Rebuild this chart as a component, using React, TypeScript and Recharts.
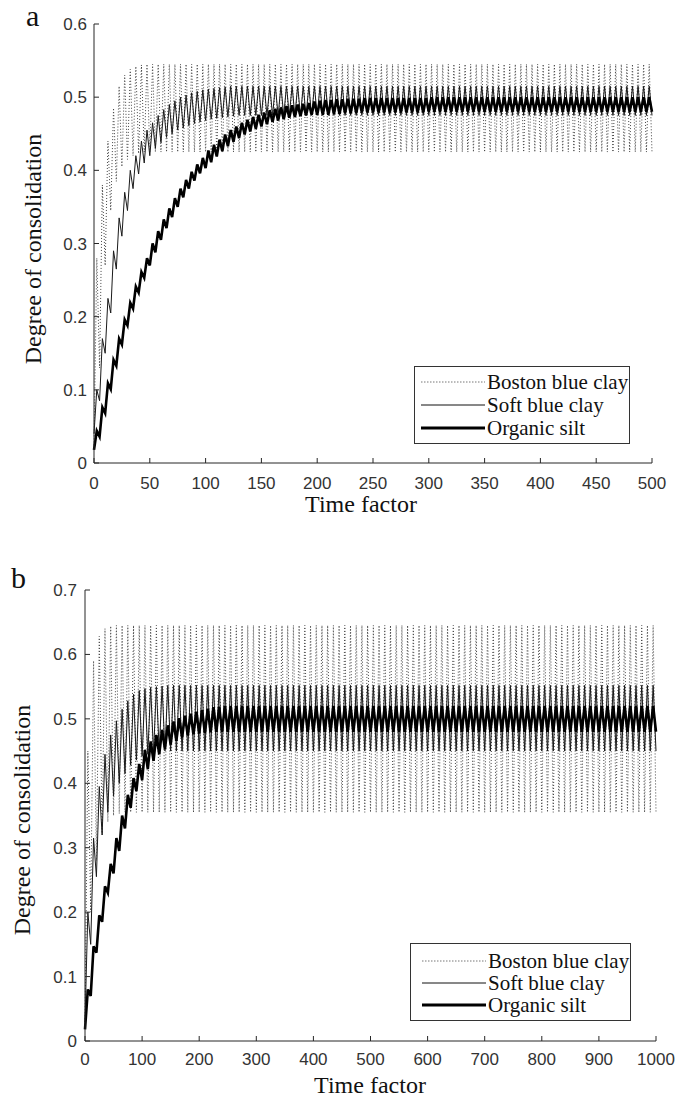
import { Line, LineChart, XAxis, YAxis } from 'recharts';

const seriesNames = ['Boston blue clay', 'Soft blue clay', 'Organic silt'];

const xTicksA = [0, 50, 100, 150, 200, 250, 300, 350, 400, 450, 500];
const yTicksA = [0, 0.1, 0.2, 0.3, 0.4, 0.5, 0.6];
const xTicksB = [0, 100, 200, 300, 400, 500, 600, 700, 800, 900, 1000];
const yTicksB = [0, 0.1, 0.2, 0.3, 0.4, 0.5, 0.6, 0.7];

// half of one loading cycle (time factor units)
const halfCycleA = 2.5;
const halfCycleB = 5;

// ---- panel a : values at cycle starts (t = 0, 5, 10 ...) and at mid-cycle (t = 2.5, 7.5 ...)
const bostonLowA = [
  0.02, 0.13, 0.27, 0.345, 0.385, 0.405, 0.415, 0.42, 0.423, 0.425,
  0.425, 0.425, 0.425, 0.425, 0.425, 0.425, 0.425, 0.425, 0.425, 0.425,
  0.425, 0.425, 0.425, 0.425, 0.425, 0.425, 0.425, 0.425, 0.425, 0.425,
  0.425, 0.425, 0.425, 0.425, 0.425, 0.425, 0.425, 0.425, 0.425, 0.425,
  0.425, 0.425, 0.425, 0.425, 0.425, 0.425, 0.425, 0.425, 0.425, 0.425,
  0.425, 0.425, 0.425, 0.425, 0.425, 0.425, 0.425, 0.425, 0.425, 0.425,
  0.425, 0.425, 0.425, 0.425, 0.425, 0.425, 0.425, 0.425, 0.425, 0.425,
  0.425, 0.425, 0.425, 0.425, 0.425, 0.425, 0.425, 0.425, 0.425, 0.425,
  0.425, 0.425, 0.425, 0.425, 0.425, 0.425, 0.425, 0.425, 0.425, 0.425,
  0.425, 0.425, 0.425, 0.425, 0.425, 0.425, 0.425, 0.425, 0.425, 0.425,
  0.425,
];
const bostonHighA = [
  0.28, 0.38, 0.44, 0.485, 0.515, 0.53, 0.538, 0.542, 0.544, 0.545,
  0.545, 0.545, 0.545, 0.545, 0.545, 0.545, 0.545, 0.545, 0.545, 0.545,
  0.545, 0.545, 0.545, 0.545, 0.545, 0.545, 0.545, 0.545, 0.545, 0.545,
  0.545, 0.545, 0.545, 0.545, 0.545, 0.545, 0.545, 0.545, 0.545, 0.545,
  0.545, 0.545, 0.545, 0.545, 0.545, 0.545, 0.545, 0.545, 0.545, 0.545,
  0.545, 0.545, 0.545, 0.545, 0.545, 0.545, 0.545, 0.545, 0.545, 0.545,
  0.545, 0.545, 0.545, 0.545, 0.545, 0.545, 0.545, 0.545, 0.545, 0.545,
  0.545, 0.545, 0.545, 0.545, 0.545, 0.545, 0.545, 0.545, 0.545, 0.545,
  0.545, 0.545, 0.545, 0.545, 0.545, 0.545, 0.545, 0.545, 0.545, 0.545,
  0.545, 0.545, 0.545, 0.545, 0.545, 0.545, 0.545, 0.545, 0.545, 0.545,
];
const softLowA = [
  0.04, 0.085, 0.15, 0.205, 0.265, 0.31, 0.345, 0.375, 0.395, 0.41,
  0.42, 0.43, 0.438, 0.445, 0.45, 0.455, 0.458, 0.461, 0.464, 0.466,
  0.468, 0.47, 0.471, 0.472, 0.473, 0.474, 0.475, 0.475, 0.475, 0.475,
  0.475, 0.475, 0.475, 0.475, 0.475, 0.475, 0.475, 0.475, 0.475, 0.475,
  0.475, 0.475, 0.475, 0.475, 0.475, 0.475, 0.475, 0.475, 0.475, 0.475,
  0.475, 0.475, 0.475, 0.475, 0.475, 0.475, 0.475, 0.475, 0.475, 0.475,
  0.475, 0.475, 0.475, 0.475, 0.475, 0.475, 0.475, 0.475, 0.475, 0.475,
  0.475, 0.475, 0.475, 0.475, 0.475, 0.475, 0.475, 0.475, 0.475, 0.475,
  0.475, 0.475, 0.475, 0.475, 0.475, 0.475, 0.475, 0.475, 0.475, 0.475,
  0.475, 0.475, 0.475, 0.475, 0.475, 0.475, 0.475, 0.475, 0.475, 0.475,
  0.475,
];
const softHighA = [
  0.1, 0.17, 0.225, 0.29, 0.335, 0.37, 0.4, 0.42, 0.44, 0.455,
  0.465, 0.475, 0.483, 0.49, 0.495, 0.5, 0.503, 0.506, 0.508, 0.51,
  0.511, 0.512, 0.513, 0.514, 0.515, 0.515, 0.515, 0.515, 0.515, 0.515,
  0.515, 0.515, 0.515, 0.515, 0.515, 0.515, 0.515, 0.515, 0.515, 0.515,
  0.515, 0.515, 0.515, 0.515, 0.515, 0.515, 0.515, 0.515, 0.515, 0.515,
  0.515, 0.515, 0.515, 0.515, 0.515, 0.515, 0.515, 0.515, 0.515, 0.515,
  0.515, 0.515, 0.515, 0.515, 0.515, 0.515, 0.515, 0.515, 0.515, 0.515,
  0.515, 0.515, 0.515, 0.515, 0.515, 0.515, 0.515, 0.515, 0.515, 0.515,
  0.515, 0.515, 0.515, 0.515, 0.515, 0.515, 0.515, 0.515, 0.515, 0.515,
  0.515, 0.515, 0.515, 0.515, 0.515, 0.515, 0.515, 0.515, 0.515, 0.515,
];
const siltLowA = [
  0.018, 0.036, 0.068, 0.101, 0.133, 0.162, 0.188, 0.211, 0.233, 0.253,
  0.27, 0.288, 0.305, 0.321, 0.336, 0.35, 0.363, 0.375, 0.386, 0.396,
  0.403, 0.411, 0.419, 0.426, 0.433, 0.439, 0.444, 0.449, 0.453, 0.457,
  0.46, 0.463, 0.466, 0.468, 0.47, 0.472, 0.473, 0.474, 0.475, 0.476,
  0.476, 0.476, 0.476, 0.477, 0.477, 0.478, 0.478, 0.478, 0.479, 0.479,
  0.479, 0.479, 0.479, 0.479, 0.479, 0.479, 0.479, 0.479, 0.479, 0.479,
  0.48, 0.48, 0.48, 0.48, 0.48, 0.48, 0.48, 0.48, 0.48, 0.48,
  0.48, 0.48, 0.48, 0.48, 0.48, 0.48, 0.48, 0.48, 0.48, 0.48,
  0.48, 0.48, 0.48, 0.48, 0.48, 0.48, 0.48, 0.48, 0.48, 0.48,
  0.48, 0.48, 0.48, 0.48, 0.48, 0.48, 0.48, 0.48, 0.48, 0.48,
  0.48,
];
const siltHighA = [
  0.044, 0.076, 0.109, 0.141, 0.17, 0.196, 0.219, 0.241, 0.261, 0.28,
  0.3, 0.317, 0.333, 0.348, 0.362, 0.375, 0.387, 0.398, 0.408, 0.417,
  0.427, 0.435, 0.442, 0.449, 0.455, 0.46, 0.465, 0.469, 0.473, 0.476,
  0.479, 0.482, 0.484, 0.486, 0.488, 0.489, 0.49, 0.491, 0.492, 0.494,
  0.495, 0.496, 0.496, 0.497, 0.497, 0.498, 0.498, 0.498, 0.499, 0.499,
  0.499, 0.499, 0.499, 0.499, 0.499, 0.499, 0.499, 0.499, 0.499, 0.499,
  0.5, 0.5, 0.5, 0.5, 0.5, 0.5, 0.5, 0.5, 0.5, 0.5,
  0.5, 0.5, 0.5, 0.5, 0.5, 0.5, 0.5, 0.5, 0.5, 0.5,
  0.5, 0.5, 0.5, 0.5, 0.5, 0.5, 0.5, 0.5, 0.5, 0.5,
  0.5, 0.5, 0.5, 0.5, 0.5, 0.5, 0.5, 0.5, 0.5, 0.5,
];

// ---- panel b : cycle starts (t = 0, 10, 20 ...) and mid-cycle (t = 5, 15 ...)
const bostonLowB = [
  0.02, 0.2, 0.28, 0.32, 0.34, 0.35, 0.353, 0.355, 0.355, 0.355,
  0.355, 0.355, 0.355, 0.355, 0.355, 0.355, 0.355, 0.355, 0.355, 0.355,
  0.355, 0.355, 0.355, 0.355, 0.355, 0.355, 0.355, 0.355, 0.355, 0.355,
  0.355, 0.355, 0.355, 0.355, 0.355, 0.355, 0.355, 0.355, 0.355, 0.355,
  0.355, 0.355, 0.355, 0.355, 0.355, 0.355, 0.355, 0.355, 0.355, 0.355,
  0.355, 0.355, 0.355, 0.355, 0.355, 0.355, 0.355, 0.355, 0.355, 0.355,
  0.355, 0.355, 0.355, 0.355, 0.355, 0.355, 0.355, 0.355, 0.355, 0.355,
  0.355, 0.355, 0.355, 0.355, 0.355, 0.355, 0.355, 0.355, 0.355, 0.355,
  0.355, 0.355, 0.355, 0.355, 0.355, 0.355, 0.355, 0.355, 0.355, 0.355,
  0.355, 0.355, 0.355, 0.355, 0.355, 0.355, 0.355, 0.355, 0.355, 0.355,
  0.355,
];
const bostonHighB = [
  0.45, 0.59, 0.628, 0.64, 0.644, 0.645, 0.645, 0.645, 0.645, 0.645,
  0.645, 0.645, 0.645, 0.645, 0.645, 0.645, 0.645, 0.645, 0.645, 0.645,
  0.645, 0.645, 0.645, 0.645, 0.645, 0.645, 0.645, 0.645, 0.645, 0.645,
  0.645, 0.645, 0.645, 0.645, 0.645, 0.645, 0.645, 0.645, 0.645, 0.645,
  0.645, 0.645, 0.645, 0.645, 0.645, 0.645, 0.645, 0.645, 0.645, 0.645,
  0.645, 0.645, 0.645, 0.645, 0.645, 0.645, 0.645, 0.645, 0.645, 0.645,
  0.645, 0.645, 0.645, 0.645, 0.645, 0.645, 0.645, 0.645, 0.645, 0.645,
  0.645, 0.645, 0.645, 0.645, 0.645, 0.645, 0.645, 0.645, 0.645, 0.645,
  0.645, 0.645, 0.645, 0.645, 0.645, 0.645, 0.645, 0.645, 0.645, 0.645,
  0.645, 0.645, 0.645, 0.645, 0.645, 0.645, 0.645, 0.645, 0.645, 0.645,
];
const softLowB = [
  0.03, 0.15, 0.255, 0.32, 0.355, 0.38, 0.4, 0.415, 0.428, 0.436,
  0.442, 0.445, 0.447, 0.449, 0.45, 0.45, 0.45, 0.45, 0.45, 0.45,
  0.45, 0.45, 0.45, 0.45, 0.45, 0.45, 0.45, 0.45, 0.45, 0.45,
  0.45, 0.45, 0.45, 0.45, 0.45, 0.45, 0.45, 0.45, 0.45, 0.45,
  0.45, 0.45, 0.45, 0.45, 0.45, 0.45, 0.45, 0.45, 0.45, 0.45,
  0.45, 0.45, 0.45, 0.45, 0.45, 0.45, 0.45, 0.45, 0.45, 0.45,
  0.45, 0.45, 0.45, 0.45, 0.45, 0.45, 0.45, 0.45, 0.45, 0.45,
  0.45, 0.45, 0.45, 0.45, 0.45, 0.45, 0.45, 0.45, 0.45, 0.45,
  0.45, 0.45, 0.45, 0.45, 0.45, 0.45, 0.45, 0.45, 0.45, 0.45,
  0.45, 0.45, 0.45, 0.45, 0.45, 0.45, 0.45, 0.45, 0.45, 0.45,
  0.45,
];
const softHighB = [
  0.2, 0.315, 0.395, 0.445, 0.475, 0.497, 0.515, 0.528, 0.538, 0.544,
  0.547, 0.549, 0.55, 0.551, 0.552, 0.552, 0.552, 0.552, 0.552, 0.552,
  0.552, 0.552, 0.552, 0.552, 0.552, 0.552, 0.552, 0.552, 0.552, 0.552,
  0.552, 0.552, 0.552, 0.552, 0.552, 0.552, 0.552, 0.552, 0.552, 0.552,
  0.552, 0.552, 0.552, 0.552, 0.552, 0.552, 0.552, 0.552, 0.552, 0.552,
  0.552, 0.552, 0.552, 0.552, 0.552, 0.552, 0.552, 0.552, 0.552, 0.552,
  0.552, 0.552, 0.552, 0.552, 0.552, 0.552, 0.552, 0.552, 0.552, 0.552,
  0.552, 0.552, 0.552, 0.552, 0.552, 0.552, 0.552, 0.552, 0.552, 0.552,
  0.552, 0.552, 0.552, 0.552, 0.552, 0.552, 0.552, 0.552, 0.552, 0.552,
  0.552, 0.552, 0.552, 0.552, 0.552, 0.552, 0.552, 0.552, 0.552, 0.552,
];
const siltLowB = [
  0.018, 0.07, 0.137, 0.185, 0.23, 0.26, 0.295, 0.33, 0.362, 0.388,
  0.405, 0.422, 0.435, 0.445, 0.453, 0.46, 0.466, 0.471, 0.474, 0.476,
  0.477, 0.478, 0.479, 0.48, 0.48, 0.48, 0.48, 0.48, 0.48, 0.48,
  0.48, 0.48, 0.48, 0.48, 0.48, 0.48, 0.48, 0.48, 0.48, 0.48,
  0.48, 0.48, 0.48, 0.48, 0.48, 0.48, 0.48, 0.48, 0.48, 0.48,
  0.48, 0.48, 0.48, 0.48, 0.48, 0.48, 0.48, 0.48, 0.48, 0.48,
  0.48, 0.48, 0.48, 0.48, 0.48, 0.48, 0.48, 0.48, 0.48, 0.48,
  0.48, 0.48, 0.48, 0.48, 0.48, 0.48, 0.48, 0.48, 0.48, 0.48,
  0.48, 0.48, 0.48, 0.48, 0.48, 0.48, 0.48, 0.48, 0.48, 0.48,
  0.48, 0.48, 0.48, 0.48, 0.48, 0.48, 0.48, 0.48, 0.48, 0.48,
  0.48,
];
const siltHighB = [
  0.08, 0.147, 0.195, 0.24, 0.275, 0.315, 0.35, 0.382, 0.408, 0.43,
  0.452, 0.465, 0.475, 0.483, 0.49, 0.496, 0.501, 0.505, 0.508, 0.511,
  0.514, 0.516, 0.518, 0.519, 0.52, 0.52, 0.52, 0.52, 0.52, 0.52,
  0.52, 0.52, 0.52, 0.52, 0.52, 0.52, 0.52, 0.52, 0.52, 0.52,
  0.52, 0.52, 0.52, 0.52, 0.52, 0.52, 0.52, 0.52, 0.52, 0.52,
  0.52, 0.52, 0.52, 0.52, 0.52, 0.52, 0.52, 0.52, 0.52, 0.52,
  0.52, 0.52, 0.52, 0.52, 0.52, 0.52, 0.52, 0.52, 0.52, 0.52,
  0.52, 0.52, 0.52, 0.52, 0.52, 0.52, 0.52, 0.52, 0.52, 0.52,
  0.52, 0.52, 0.52, 0.52, 0.52, 0.52, 0.52, 0.52, 0.52, 0.52,
  0.52, 0.52, 0.52, 0.52, 0.52, 0.52, 0.52, 0.52, 0.52, 0.52,
];

type Row = { t: number; boston: number; soft: number; silt: number };

// interleave cycle-start and mid-cycle readings into one time series
function buildRows(step: number, bLow: number[], bHigh: number[], sLow: number[], sHigh: number[], oLow: number[], oHigh: number[]) {
  const rows: Row[] = [];
  for (let k = 0; k < bLow.length; k++) {
    rows.push({ t: 2 * k * step, boston: bLow[k], soft: sLow[k], silt: oLow[k] });
    if (k < bHigh.length) rows.push({ t: (2 * k + 1) * step, boston: bHigh[k], soft: sHigh[k], silt: oHigh[k] });
  }
  return rows;
}

const rowsA = buildRows(halfCycleA, bostonLowA, bostonHighA, softLowA, softHighA, siltLowA, siltHighA);
const rowsB = buildRows(halfCycleB, bostonLowB, bostonHighB, softLowB, softHighB, siltLowB, siltHighB);

const axisColor = '#262626';
const serif = '"Liberation Serif", "Times New Roman", serif';
const sans = '"Liberation Sans", Arial, sans-serif';
const tickStyle = { fill: '#333', fontSize: 17, fontFamily: sans };

interface PanelProps {
  letter: string;
  top: number;
  height: number;
  rows: Row[];
  xTicks: number[];
  yTicks: number[];
  plot: { left: number; right: number; top: number; bottom: number };
  xTickMargin: number;
  yTickMargin: number;
  yTitle: { x: number; y: number };
  xTitle: { x: number; y: number };
  letterPos: { x: number; y: number };
  legend: { left: number; top: number; width: number; height: number; lineFrom: number; lineTo: number; textX: number; rows: number[] };
}

function LegendBox({ legend }: { legend: PanelProps['legend'] }) {
  const strokes = [
    { stroke: '#777', width: 1, dash: '1.5 1.5' },
    { stroke: '#111', width: 1, dash: undefined },
    { stroke: '#000', width: 3, dash: undefined },
  ];
  return (
    <div
      style={{
        position: 'absolute',
        left: legend.left,
        top: legend.top,
        width: legend.width,
        height: legend.height,
        border: '1px solid #333',
        boxSizing: 'border-box',
        background: '#fff',
      }}
    >
      <svg width={legend.width - 2} height={legend.height - 2} style={{ position: 'absolute', left: 0, top: 0 }}>
        {seriesNames.map((name, i) => (
          <g key={name}>
            <line
              x1={legend.lineFrom}
              x2={legend.lineTo}
              y1={legend.rows[i]}
              y2={legend.rows[i]}
              stroke={strokes[i].stroke}
              strokeWidth={strokes[i].width}
              strokeDasharray={strokes[i].dash}
            />
            <text x={legend.textX} y={legend.rows[i]} dominantBaseline="central" fontFamily={serif} fontSize={21} fill="#111">
              {name}
            </text>
          </g>
        ))}
      </svg>
    </div>
  );
}

function Panel(p: PanelProps) {
  const xMax = p.xTicks[p.xTicks.length - 1];
  const yMax = p.yTicks[p.yTicks.length - 1];
  const renderYTitle = () => (
    <text
      x={p.yTitle.x}
      y={p.yTitle.y}
      transform={`rotate(-90 ${p.yTitle.x} ${p.yTitle.y})`}
      textAnchor="middle"
      dominantBaseline="central"
      fontFamily={serif}
      fontSize={24}
      fill="#111"
    >
      Degree of consolidation
    </text>
  );
  const renderXTitle = () => (
    <text x={p.xTitle.x} y={p.xTitle.y} textAnchor="middle" fontFamily={serif} fontSize={24} fill="#111">
      Time factor
    </text>
  );

  return (
    <div style={{ position: 'absolute', left: 0, top: p.top, width: 676, height: p.height }}>
      <LineChart
        width={676}
        height={p.height}
        data={p.rows}
        margin={{ top: p.plot.top, right: 676 - p.plot.right, bottom: 0, left: 0 }}
      >
        <XAxis
          xAxisId="bottom"
          dataKey="t"
          type="number"
          domain={[0, xMax]}
          ticks={p.xTicks}
          interval={0}
          height={p.height - p.plot.bottom}
          tickSize={-5}
          tickMargin={p.xTickMargin}
          stroke={axisColor}
          tick={tickStyle}
          label={renderXTitle}
        />
        <XAxis
          xAxisId="top"
          orientation="top"
          dataKey="t"
          type="number"
          domain={[0, xMax]}
          ticks={p.xTicks}
          interval={0}
          height={0}
          tickSize={-5}
          tick={false}
          stroke={axisColor}
        />
        <YAxis
          yAxisId="left"
          type="number"
          domain={[0, yMax]}
          ticks={p.yTicks}
          interval={0}
          width={p.plot.left}
          tickSize={-5}
          tickMargin={p.yTickMargin}
          stroke={axisColor}
          tick={tickStyle}
          label={renderYTitle}
        />
        <YAxis
          yAxisId="right"
          orientation="right"
          type="number"
          domain={[0, yMax]}
          ticks={p.yTicks}
          interval={0}
          width={0}
          tickSize={-5}
          tick={false}
          stroke={axisColor}
        />
        <Line
          xAxisId="bottom"
          yAxisId="left"
          dataKey="boston"
          type="linear"
          stroke="#444"
          strokeWidth={1}
          strokeDasharray="1 2"
          dot={false}
          isAnimationActive={false}
        />
        <Line
          xAxisId="bottom"
          yAxisId="left"
          dataKey="soft"
          type="linear"
          stroke="#1a1a1a"
          strokeWidth={1}
          dot={false}
          isAnimationActive={false}
        />
        <Line
          xAxisId="bottom"
          yAxisId="left"
          dataKey="silt"
          type="linear"
          stroke="#000"
          strokeWidth={2.6}
          dot={false}
          isAnimationActive={false}
        />
      </LineChart>
      <LegendBox legend={p.legend} />
      <svg width={40} height={36} style={{ position: 'absolute', left: 0, top: p.letterPos.y - 26 }}>
        <text x={p.letterPos.x} y={26} fontFamily={serif} fontSize={30} fill="#111">
          {p.letter}
        </text>
      </svg>
    </div>
  );
}

export default function App() {
  return (
    <div style={{ position: 'absolute', left: 0, top: 0, width: 676, height: 1099, background: '#fff' }}>
      <Panel
        letter="a"
        top={0}
        height={530}
        rows={rowsA}
        xTicks={xTicksA}
        yTicks={yTicksA}
        plot={{ left: 94, right: 652, top: 24, bottom: 463 }}
        xTickMargin={19}
        yTickMargin={12}
        yTitle={{ x: 33, y: 249 }}
        xTitle={{ x: 361, y: 512 }}
        letterPos={{ x: 26, y: 26 }}
        legend={{ left: 414, top: 366, width: 216, height: 78, lineFrom: 6, lineTo: 70, textX: 72, rows: [15, 38, 61] }}
      />
      <Panel
        letter="b"
        top={540}
        height={559}
        rows={rowsB}
        xTicks={xTicksB}
        yTicks={yTicksB}
        plot={{ left: 85, right: 656, top: 50, bottom: 501 }}
        xTickMargin={17}
        yTickMargin={13}
        yTitle={{ x: 22, y: 280 }}
        xTitle={{ x: 370, y: 553 }}
        letterPos={{ x: 11, y: 48 }}
        legend={{ left: 410, top: 403, width: 221, height: 78, lineFrom: 11, lineTo: 75, textX: 77, rows: [17, 39, 61] }}
      />
    </div>
  );
}
